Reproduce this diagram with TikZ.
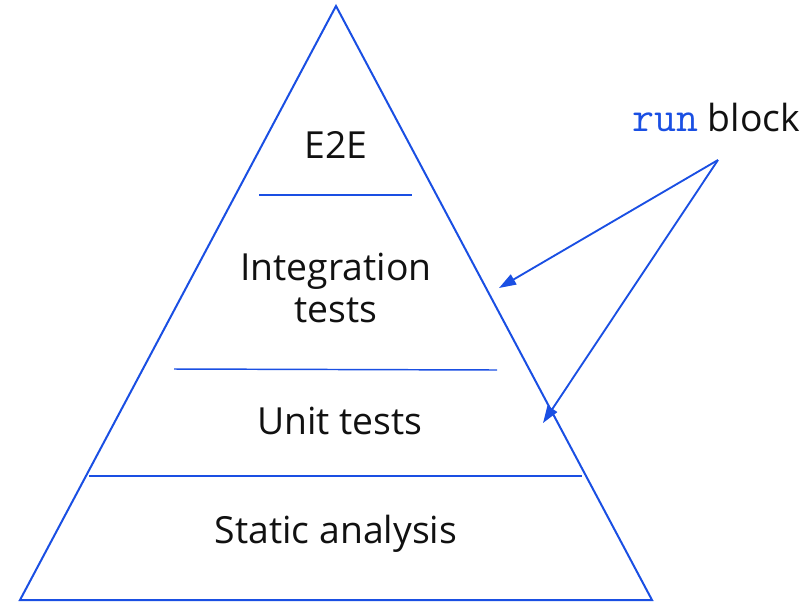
\documentclass[tikz,border=0pt]{standalone}
\usepackage{fontspec}
\setmainfont{Open Sans}
\usepackage{xcolor}
\usepackage{tikz}
\usetikzlibrary{arrows.meta, positioning}
\definecolor{cLine}{HTML}{1A4FE3}
\definecolor{cText}{HTML}{111111}

\begin{document}
\begin{tikzpicture}[x=0.75pt, y=-0.75pt, every node/.style={font=\fontsize{28}{32}\selectfont, text=cText},
  layer/.style={align=center, inner sep=0pt},
  edge/.style={draw=cLine, line width=1.5pt, line join=miter},
  sep/.style={draw=cLine, line width=1.1pt},
  arr/.style={-{Triangle[length=4.5mm, width=3mm]}, draw=cLine, line width=1.4pt}]
  \useasboundingbox (0,0) rectangle (811,601);
  % pyramid
  \coordinate (top) at (336,6);
  \coordinate (bl) at (20,600);
  \coordinate (br) at (652,600);
  \draw[edge] (bl) -- (top) -- (br) -- cycle;
  \draw[sep] (259,195) -- (412,195);
  \draw[sep] (174,369) -- (497,370);
  \draw[sep] (89,476) -- (582,476);
  % layers
  \node[layer] (e2e) at (336,145) {E2E};
  \node[layer] (integ) at (336,288) {Integration\\tests};
  \node[layer] (unit) at (340,421) {Unit tests};
  \node[layer] (static) at (336,534) {Static analysis};
  % callout
  \node[layer] (run) at (716,117) {\textcolor{cLine}{\fontsize{32}{32}\selectfont\texttt{run}} block};
  \coordinate (fork) at (718,160);
  \coordinate (hitA) at (499,288);
  \coordinate (hitB) at (543,423);
  \draw[arr] (fork) -- (hitA);
  \draw[arr] (fork) -- (hitB);
\end{tikzpicture}
\end{document}
